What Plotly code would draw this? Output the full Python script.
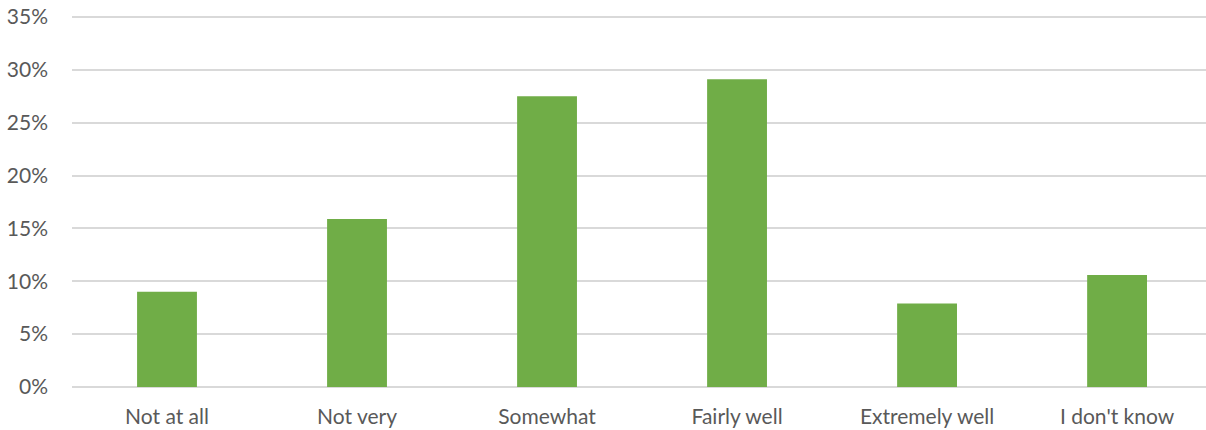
import plotly.graph_objects as go

categories = ["Not at all", "Not very", "Somewhat", "Fairly well", "Extremely well", "I don't know"]
values = [0.090, 0.159, 0.275, 0.291, 0.079, 0.106]
y_ticks = [0, 0.05, 0.10, 0.15, 0.20, 0.25, 0.30, 0.35]
y_tick_labels = ["0%", "5%", "10%", "15%", "20%", "25%", "30%", "35%"]

fig = go.Figure(go.Bar(
    x=list(range(len(categories))),
    y=values,
    width=0.315,
    marker=dict(color="#70AD47", line=dict(width=0)),
    hoverinfo="skip",
))

fig.update_layout(
    width=1206, height=430,
    margin=dict(l=72, r=0, t=14, b=43),
    plot_bgcolor="white", paper_bgcolor="white",
    font=dict(family="Lato, Calibri, sans-serif", size=21, color="#595959"),
    showlegend=False,
    xaxis=dict(
        range=[-0.5, 5.468],
        tickmode="array",
        tickvals=list(range(len(categories))),
        ticktext=categories,
        showgrid=False, zeroline=False, showline=False,
        ticks="", ticklabelstandoff=15, automargin=False,
    ),
    yaxis=dict(
        range=[0, 0.3528],
        tickmode="array",
        tickvals=y_ticks,
        ticktext=y_tick_labels,
        showgrid=True, gridcolor="#D9D9D9", gridwidth=1.5,
        zeroline=True, zerolinecolor="#D9D9D9", zerolinewidth=1.5,
        showline=False, ticks="", ticklabelstandoff=23,
        ticklabeloverflow="allow", automargin=False,
    ),
)

fig.write_html(
    "out.html",
    config={"displayModeBar": False},
    post_script="document.body.style.margin='0';document.body.style.padding='0';",
)
